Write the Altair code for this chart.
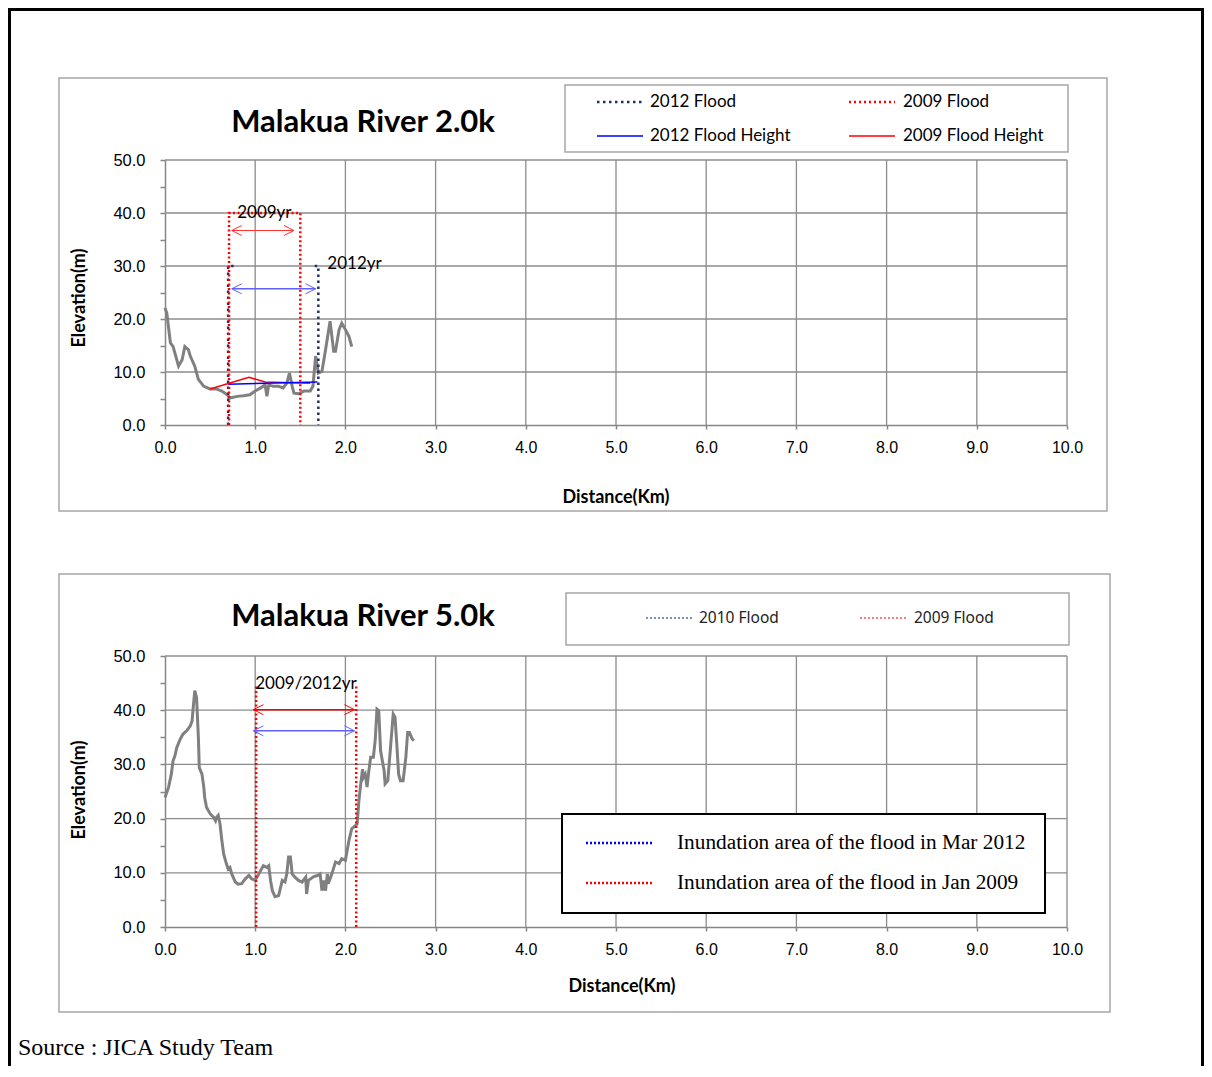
import altair as alt
import pandas as pd

# ---------------- data : Malakua River 2.0k ----------------
top_dist = [0.00, 0.02, 0.06, 0.09, 0.15, 0.19, 0.22, 0.26, 0.28, 0.33, 0.37, 0.43, 0.50, 0.57,
            0.63, 0.69, 0.72, 0.80, 0.87, 0.94, 1.00, 1.06, 1.11, 1.13, 1.15, 1.20, 1.26, 1.31,
            1.35, 1.38, 1.41, 1.43, 1.48, 1.54, 1.61, 1.64, 1.67, 1.70, 1.74, 1.78, 1.83, 1.87,
            1.89, 1.93, 1.96, 2.00, 2.04, 2.07]
top_elev = [22.1, 21.1, 15.5, 14.8, 11.1, 12.3, 14.8, 14.2, 13.0, 11.1, 8.6, 7.3, 6.8, 6.8,
            6.4, 5.7, 5.1, 5.4, 5.5, 5.7, 6.4, 7.0, 7.6, 5.4, 7.6, 7.3, 7.3, 7.0,
            7.9, 9.8, 7.3, 6.0, 5.9, 6.4, 6.4, 7.3, 13.0, 9.8, 10.1, 14.2, 19.6, 13.9,
            13.9, 18.0, 19.2, 18.0, 16.7, 14.8]
top_h2009_x = [0.50, 0.93, 1.11, 1.61]
top_h2009_y = [6.8, 9.0, 8.1, 7.9]
top_h2012_x = [0.70, 1.69]
top_h2012_y = [7.7, 8.1]
top_f2009_x = [0.71, 0.71, 1.50, 1.50]
top_f2009_y = [0, 40, 40, 0]
top_f2012a_x = [0.70, 0.70, 0.76]
top_f2012a_y = [0, 30, 30]
top_f2012b_x = [1.66, 1.70, 1.70]
top_f2012b_y = [30, 30, 0]
top_arrow2009 = [0.74, 1.43, 36.7]
top_arrow2012 = [0.74, 1.67, 25.7]
top_lbl2009 = ["2009yr", 0.80, 40.0]
top_lbl2012 = ["2012yr", 1.80, 30.3]

# ---------------- data : Malakua River 5.0k ----------------
bot_dist = [0.00, 0.04, 0.07, 0.09, 0.11, 0.13, 0.17, 0.20, 0.24, 0.28, 0.30, 0.31, 0.33, 0.35,
            0.37, 0.38, 0.41, 0.43, 0.44, 0.46, 0.50, 0.54, 0.56, 0.57, 0.59, 0.61, 0.63, 0.65,
            0.68, 0.70, 0.72, 0.74, 0.78, 0.81, 0.85, 0.89, 0.93, 0.96, 1.00, 1.02, 1.06, 1.09,
            1.13, 1.15, 1.17, 1.19, 1.22, 1.26, 1.30, 1.33, 1.35, 1.37, 1.39, 1.41, 1.44, 1.48,
            1.52, 1.56, 1.57, 1.59, 1.65, 1.69, 1.72, 1.74, 1.76, 1.78, 1.80, 1.81, 1.85, 1.89,
            1.93, 1.96, 2.00, 2.04, 2.07, 2.13, 2.15, 2.17, 2.19, 2.20, 2.22, 2.24, 2.26, 2.28,
            2.31, 2.33, 2.35, 2.37, 2.39, 2.43, 2.44, 2.47, 2.50, 2.53, 2.55, 2.57, 2.59, 2.61,
            2.64, 2.67, 2.69, 2.71, 2.74, 2.76]
bot_elev = [23.9, 25.8, 28.2, 30.7, 31.6, 33.1, 34.7, 35.6, 36.2, 37.1, 38.0, 39.9, 43.6, 42.3,
            35.0, 29.4, 28.2, 25.8, 23.9, 22.1, 20.9, 20.2, 19.6, 20.2, 20.6, 19.0, 16.0, 13.5,
            11.7, 10.7, 11.0, 9.8, 8.3, 7.9, 8.0, 8.9, 9.5, 8.9, 8.6, 9.2, 10.4, 11.3,
            11.0, 11.3, 8.6, 6.7, 5.6, 5.8, 8.6, 8.3, 9.8, 12.9, 12.9, 9.8, 9.2, 8.6,
            8.3, 9.2, 6.1, 8.6, 9.3, 9.5, 9.8, 6.7, 8.6, 6.7, 9.8, 8.0, 9.8, 12.0,
            11.7, 12.6, 12.3, 16.0, 18.1, 19.0, 23.3, 26.4, 29.1, 27.6, 28.2, 25.8, 28.8, 31.3,
            31.3, 34.4, 40.2, 39.9, 32.5, 28.8, 26.4, 27.0, 33.1, 39.3, 38.7, 33.7, 28.2, 27.0,
            27.0, 31.3, 35.9, 35.9, 34.7, 34.4]
bot_f2009_x = [1.01, 2.12]
bot_f2009_top = 44.5
bot_arrow2009 = [0.98, 2.10, 40.1]
bot_arrow2012 = [0.98, 2.10, 36.2]
bot_lbl = ["2009/2012yr", 1.00, 44.8]

x_ticks = list(range(0, 11))
y_ticks = list(range(0, 51, 5))
grid_x = list(range(1, 11))
grid_y = list(range(10, 51, 10))

# ---------------- styling ----------------
W, H = 1196, 1058
CAL = "Lato"
AXF = "Liberation Sans"
SER = "Liberation Serif"
GRID = "#8c8c8c"
AXC = "#868686"
RED = "#ff0000"
NAVY = "#1f3060"
BLUE = "#0000ff"
LBLUE = "#6060ff"
PROFILE = "#808080"
LEFT_HEAD = "M2,-1L0,0L2,1"
RIGHT_HEAD = "M-2,-1L0,0L-2,1"


def x_axis(offset):
    return alt.Axis(orient="bottom", offset=offset, values=x_ticks, format=".1f", grid=False,
                    domainColor=AXC, domainWidth=1.5, tickColor=AXC, tickWidth=1.5, tickSize=4,
                    labelFont=AXF, labelFontSize=16, labelColor="#000000", labelPadding=10,
                    labelOverlap=False, labelFlush=False, title=None)


def y_axis():
    return alt.Axis(orient="left", offset=-157, values=y_ticks,
                    labelExpr="datum.value % 10 == 0 ? format(datum.value, '.1f') : ''",
                    grid=False, domainColor=AXC, domainWidth=1.5, tickColor=AXC, tickWidth=1.5,
                    tickSize=5, labelFont=AXF, labelFontSize=16.5, labelColor="#000000",
                    labelPadding=15, labelOverlap=False, title=None)


def build_panel(xs, ys, xax, yax, parts):
    def X(f):
        return alt.X(f, type="quantitative", scale=xs, axis=xax)

    def Y(f):
        return alt.Y(f, type="quantitative", scale=ys, axis=yax)

    layers = []
    gv = pd.DataFrame({"gx": grid_x, "g0": 0.0, "g1": 50.0})
    layers.append(alt.Chart(gv).mark_rule(color=GRID, strokeWidth=1.3)
                  .encode(x=X("gx"), y=Y("g0"), y2="g1"))
    gh = pd.DataFrame({"gy": grid_y, "h0": 0.0, "h1": 10.0})
    layers.append(alt.Chart(gh).mark_rule(color=GRID, strokeWidth=1.3)
                  .encode(y=Y("gy"), x=X("h0"), x2="h1"))
    for kind, spec, style in parts:
        if kind == "line":
            xv, yv = spec
            df = pd.DataFrame({"px": xv, "py": yv, "i": list(range(len(xv)))})
            layers.append(alt.Chart(df).mark_line(**style)
                          .encode(x=X("px"), y=Y("py"), order=alt.Order("i:Q")))
        elif kind == "arrow":
            a, b, yy = spec
            df = pd.DataFrame({"a": [a], "b": [b], "yy": [yy]})
            layers.append(alt.Chart(df).mark_rule(**style).encode(x=X("a"), x2="b", y=Y("yy")))
            dl = pd.DataFrame({"hx": [a], "hy": [yy]})
            dr = pd.DataFrame({"hx": [b], "hy": [yy]})
            layers.append(alt.Chart(dl).mark_point(shape=LEFT_HEAD, size=100, filled=False,
                                                    color=style["color"], strokeWidth=1, opacity=1)
                          .encode(x=X("hx"), y=Y("hy")))
            layers.append(alt.Chart(dr).mark_point(shape=RIGHT_HEAD, size=100, filled=False,
                                                    color=style["color"], strokeWidth=1, opacity=1)
                          .encode(x=X("hx"), y=Y("hy")))
        elif kind == "text":
            t, tx, ty = spec
            df = pd.DataFrame({"tx": [tx], "ty": [ty]})
            layers.append(alt.Chart(df).mark_text(text=t, **style).encode(x=X("tx"), y=Y("ty")))
    return alt.layer(*layers)


xs_top = alt.Scale(domain=[0, 10], range=[157, 1059], nice=False, zero=False)
ys_top = alt.Scale(domain=[0, 50], range=[417, 152], nice=False, zero=False)
xs_bot = alt.Scale(domain=[0, 10], range=[157, 1059], nice=False, zero=False)
ys_bot = alt.Scale(domain=[0, 50], range=[919, 648], nice=False, zero=False)

txt_style = dict(align="left", baseline="middle", font=CAL, fontSize=17, color="#000000")

top_parts = [
    ("line", (top_dist, top_elev), dict(color=PROFILE, strokeWidth=3)),
    ("line", (top_h2009_x, top_h2009_y), dict(color=RED, strokeWidth=1.5)),
    ("line", (top_h2012_x, top_h2012_y), dict(color=BLUE, strokeWidth=1.5)),
    ("line", (top_f2012a_x, top_f2012a_y), dict(color=NAVY, strokeWidth=2.5, strokeDash=[2.5, 3.5])),
    ("line", (top_f2012b_x, top_f2012b_y), dict(color=NAVY, strokeWidth=2.5, strokeDash=[2.5, 3.5])),
    ("line", (top_f2009_x, top_f2009_y), dict(color=RED, strokeWidth=2.5, strokeDash=[2, 2.5])),
    ("arrow", top_arrow2009, dict(color="#ff3030", strokeWidth=1)),
    ("arrow", top_arrow2012, dict(color=LBLUE, strokeWidth=1.5)),
    ("text", top_lbl2009, txt_style),
    ("text", top_lbl2012, txt_style),
]
bot_parts = [
    ("line", (bot_dist, bot_elev), dict(color=PROFILE, strokeWidth=3)),
    ("line", ([bot_f2009_x[0], bot_f2009_x[0]], [0, bot_f2009_top]),
     dict(color=RED, strokeWidth=2.5, strokeDash=[2, 2.5])),
    ("line", ([bot_f2009_x[1], bot_f2009_x[1]], [0, bot_f2009_top]),
     dict(color=RED, strokeWidth=2.5, strokeDash=[2, 2.5])),
    ("arrow", bot_arrow2009, dict(color=RED, strokeWidth=1.5)),
    ("arrow", bot_arrow2012, dict(color=LBLUE, strokeWidth=1.5)),
    ("text", bot_lbl, txt_style),
]

top_panel = build_panel(xs_top, ys_top, x_axis(417 - H), y_axis(), top_parts)
bot_panel = build_panel(xs_bot, ys_bot, x_axis(919 - H), y_axis(), bot_parts)

# ---------------- decorations (boxes, titles, legends) ----------------
ONE = pd.DataFrame({"k": [0]})


def box(x1, y1, x2, y2, stroke, sw, fill=None):
    kw = dict(stroke=stroke, strokeWidth=sw)
    if fill:
        kw["fill"] = fill
    else:
        kw["fillOpacity"] = 0
    return alt.Chart(ONE).mark_rect(**kw).encode(
        x=alt.value(x1), x2=alt.value(x2), y=alt.value(y1), y2=alt.value(y2))


def seg(x1, x2, y1, y2, color, sw, dash=None):
    kw = dict(color=color, strokeWidth=sw)
    if dash:
        kw["strokeDash"] = dash
    return alt.Chart(ONE).mark_rule(**kw).encode(
        x=alt.value(x1), x2=alt.value(x2), y=alt.value(y1), y2=alt.value(y2))


def label(t, x, y, **kw):
    base = dict(align="left", baseline="middle", color="#000000")
    base.update(kw)
    return alt.Chart(ONE).mark_text(text=t, **base).encode(x=alt.value(x), y=alt.value(y))


back = [
    seg(0, W, 1.5, 1.5, "#000000", 3),
    seg(1.5, 1.5, 0, H, "#000000", 3),
    seg(W - 1.5, W - 1.5, 0, H, "#000000", 3),
    box(51, 70, 1099, 503, "#a6a6a6", 1.5),
    box(51, 566, 1102, 1004, "#a6a6a6", 1.5),
]

front = [
    # top panel texts
    label("Malakua River 2.0k", 355, 115, align="center", font=CAL, fontSize=31, fontWeight="bold"),
    label("Distance(Km)", 608, 490, align="center", font=CAL, fontSize=18, fontWeight="bold"),
    label("Elevation(m)", 72, 290, align="center", angle=270, font=CAL, fontSize=18, fontWeight="bold"),
    # top legend
    box(557, 77, 1060, 144, "#a6a6a6", 1.5),
    seg(589, 635, 94, 94, NAVY, 2.5, [2.5, 3.5]),
    label("2012 Flood", 642, 94, font=CAL, fontSize=17),
    seg(841, 887, 94, 94, RED, 2.5, [2, 3]),
    label("2009 Flood", 895, 94, font=CAL, fontSize=17),
    seg(589, 635, 128, 128, BLUE, 1.5),
    label("2012 Flood Height", 642, 128, font=CAL, fontSize=17),
    seg(841, 887, 128, 128, RED, 1.5),
    label("2009 Flood Height", 895, 128, font=CAL, fontSize=17),
    # bottom panel texts
    label("Malakua River 5.0k", 355, 609, align="center", font=CAL, fontSize=31, fontWeight="bold"),
    label("Distance(Km)", 614, 979, align="center", font=CAL, fontSize=18, fontWeight="bold"),
    label("Elevation(m)", 72, 782, align="center", angle=270, font=CAL, fontSize=18, fontWeight="bold"),
    # bottom grey legend
    box(558, 585, 1061, 637, "#a6a6a6", 1.5),
    seg(638, 684, 610, 610, "#4f6d9a", 1.5, [2, 2]),
    label("2010 Flood", 691, 610, font="Noto Sans", fontSize=15.5, color="#222222"),
    seg(852, 899, 610, 610, "#ff5050", 1.5, [2, 2]),
    label("2009 Flood", 906, 610, font="Noto Sans", fontSize=15.5, color="#222222"),
    # bottom black legend
    box(554, 806, 1037, 905, "#000000", 2, fill="#ffffff"),
    seg(578, 645, 835, 835, BLUE, 2.5, [2, 2]),
    label("Inundation area of the flood in Mar 2012", 669, 835, font=SER, fontSize=21.3),
    seg(578, 645, 875, 875, RED, 2.5, [2, 2]),
    label("Inundation area of the flood in Jan 2009", 669, 875, font=SER, fontSize=21.3),
    # source
    label("Source : JICA Study Team", 10, 1040, font=SER, fontSize=24),
]

chart = alt.layer(*back, top_panel, bot_panel, *front).resolve_scale(
    x="independent", y="independent"
).properties(
    width=W, height=H, padding=0, autosize=alt.AutoSizeParams(type="none")
).configure_view(strokeWidth=0)

chart.save("out.html", embed_options={"renderer": "svg", "actions": False})
